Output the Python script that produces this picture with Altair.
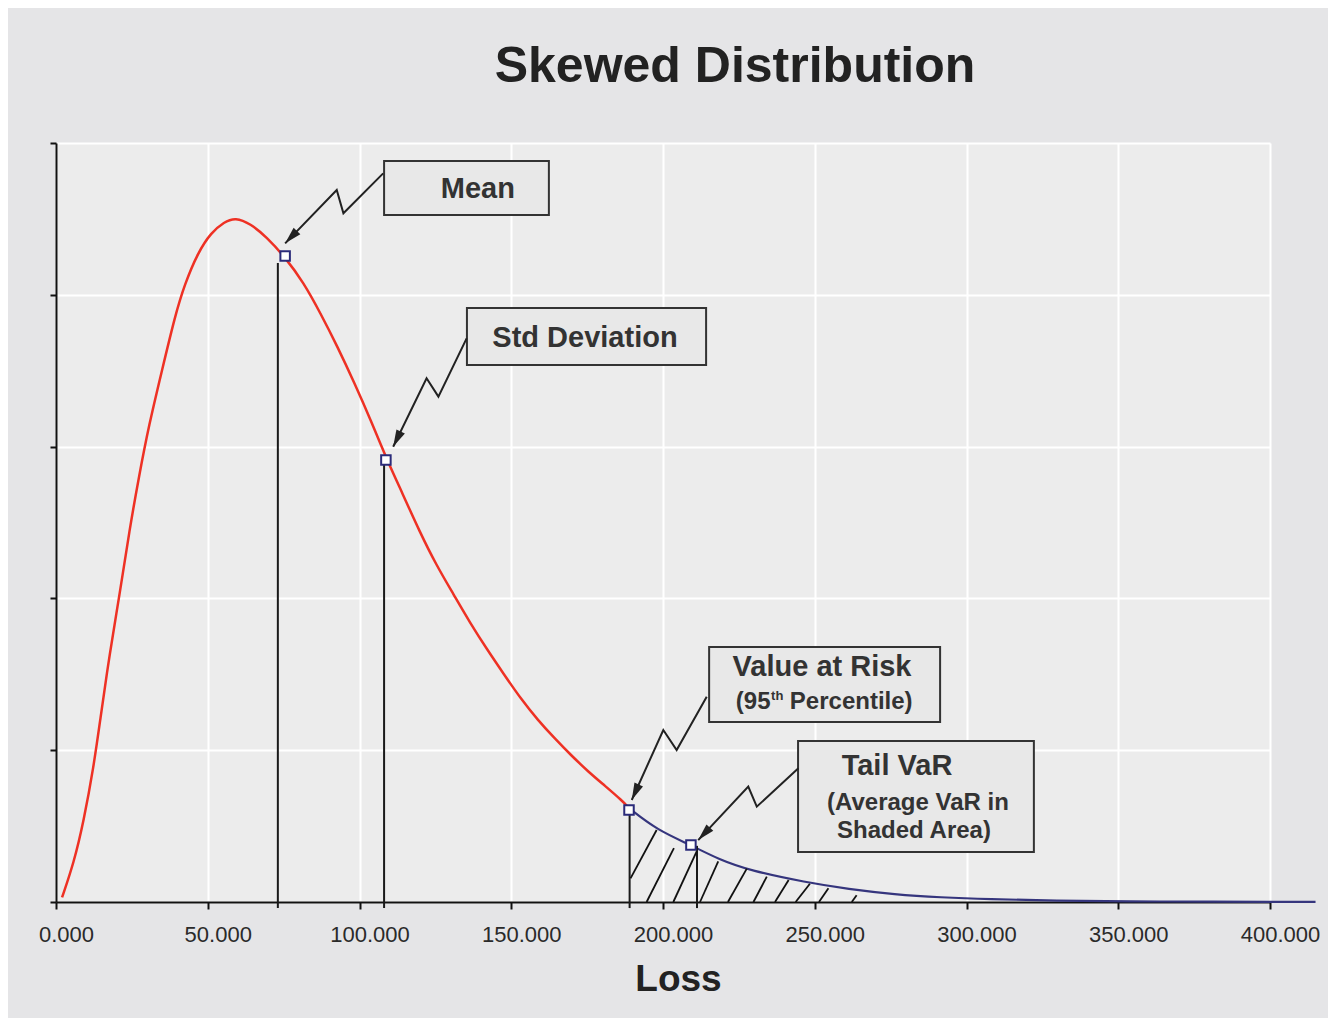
import math
import altair as alt
import pandas as pd

# ---------------- data ----------------
x_ticks = [0, 50, 100, 150, 200, 250, 300, 350, 400]
y_ticks = [0, 1, 2, 3, 4, 5]

red_x = [2.0, 5.9, 9.1, 12.4, 14.5, 17.7, 21.0, 24.2, 27.4, 30.6, 34.9, 39.2, 42.4,
         46.8, 51.1, 55.4, 59.1, 64.0, 69.4, 75.4, 81.6, 87.1, 92.7, 98.3, 103.8,
         109.1, 114.2, 119.8, 125.3, 130.9, 136.4, 142.0, 147.6, 153.1, 158.7,
         164.2, 169.8, 175.3, 180.9, 186.4, 189.0]
red_y = [0.03, 0.26, 0.53, 0.89, 1.19, 1.64, 2.03, 2.45, 2.81, 3.14, 3.50, 3.86, 4.07,
         4.28, 4.41, 4.48, 4.51, 4.47, 4.38, 4.25, 4.08, 3.88, 3.66, 3.42, 3.17,
         2.91, 2.69, 2.44, 2.22, 2.03, 1.84, 1.665, 1.50, 1.34, 1.2,
         1.08, 0.965, 0.86, 0.765, 0.67, 0.615]

blue_x = [189.0, 198.0, 209.2, 218.4, 229.0, 247.0, 261.1, 276.3, 291.6, 306.9,
          329.8, 352.7, 383.2, 400.0, 415.0]
blue_y = [0.615, 0.475, 0.375, 0.28, 0.205, 0.13, 0.085, 0.05, 0.03, 0.018,
          0.009, 0.004, 0.002, 0.001, 0.001]

# vertical reference lines and their markers
ref_x = [73.1, 108.1, 189.0, 211.2]
ref_top = [4.21, 2.91, 0.60, 0.37]
marker_x = [75.5, 108.7, 188.8, 209.2]
marker_y = [4.256, 2.912, 0.606, 0.375]

# hatch strokes in the tail (start -> end)
hatch_x0 = [189.3, 194.6, 203.4, 212.2, 221.4, 229.8, 236.9, 243.7, 251.4, 262.2]
hatch_y0 = [0.156, 0.0, 0.0, 0.0, 0.0, 0.0, 0.0, 0.0, 0.0, 0.0]
hatch_x1 = [197.9, 203.6, 211.1, 218.2, 227.6, 234.2, 241.4, 248.4, 254.5, 263.8]
hatch_y1 = [0.474, 0.355, 0.333, 0.267, 0.22, 0.167, 0.145, 0.12, 0.09, 0.045]

# annotation boxes
box_x0 = [108.1, 135.4, 215.2, 244.5]
box_x1 = [162.4, 214.2, 291.3, 322.2]
box_y0 = [4.526, 3.538, 1.186, 0.329]
box_y1 = [4.881, 3.913, 1.680, 1.061]

label_text = ["Mean", "Std Deviation", "Value at Risk", "Tail VaR",
              "(Average VaR in", "Shaded Area)"]
label_x = [139.0, 174.3, 252.4, 277.1, 284.0, 282.7]
label_y = [4.697, 3.715, 1.548, 0.896, 0.652, 0.468]
label_size = [29, 29, 29, 29, 24, 24]

pct_text = ["(95", "th", "Percentile)"]
pct_x = [224.0, 235.6, 241.8]
pct_y = [1.318, 1.357, 1.318]
pct_size = [24, 13, 24]

# zig-zag arrows (box -> point)
arrow_x = [[107.8, 94.7, 92.5, 75.5],
           [135.3, 126.0, 122.1, 111.1],
           [214.4, 204.5, 200.1, 189.7],
           [244.6, 230.9, 228.1, 211.6]]
arrow_y = [[4.800, 4.537, 4.690, 4.339],
           [3.713, 3.329, 3.450, 2.999],
           [1.352, 1.001, 1.133, 0.672],
           [0.881, 0.628, 0.760, 0.408]]

# ---------------- chart ----------------
W, H = 1214, 759
XD, YD = [0, 400], [0, 5]
FONT = "Liberation Sans"

xs = alt.Scale(domain=XD, nice=False, zero=False)
ys = alt.Scale(domain=YD, nice=False, zero=False)

xa = alt.Axis(values=x_ticks, format=".3f", labelFont=FONT, labelFontSize=22,
              labelColor="#2a2a2a", labelPadding=15, labelOffset=10, labelFlush=False,
              labelOverlap=False,
              tickSize=7, tickWidth=2, tickColor="#111111",
              domainColor="#111111", domainWidth=2,
              grid=True, gridColor="#ffffff", gridWidth=2,
              title="Loss", titleFont=FONT, titleFontSize=37,
              titleFontWeight="bold", titleColor="#222222",
              titleX=622, titleY=88, titleAlign="center",
              titleBaseline="alphabetic")
ya = alt.Axis(values=y_ticks, labels=False, title=None,
              tickSize=6, tickWidth=2, tickColor="#111111",
              domainColor="#111111", domainWidth=2,
              grid=True, gridColor="#ffffff", gridWidth=2)

red_df = pd.DataFrame({"x": red_x, "y": red_y})
blue_df = pd.DataFrame({"x": blue_x, "y": blue_y})
ref_df = pd.DataFrame({"x": ref_x, "y": [-0.04] * 4, "y2": ref_top})
mk_df = pd.DataFrame({"x": marker_x, "y": marker_y})
hatch_df = pd.DataFrame({"x": hatch_x0, "y": hatch_y0, "x2": hatch_x1, "y2": hatch_y1})
box_df = pd.DataFrame({"x": box_x0, "x2": box_x1, "y": box_y0, "y2": box_y1})
lab_df = pd.DataFrame({"t": label_text, "x": label_x, "y": label_y, "s": label_size})
pct_df = pd.DataFrame({"t": pct_text, "x": pct_x, "y": pct_y, "s": pct_size})

rows = []
heads = []
px_x = W / (XD[1] - XD[0])
px_y = H / (YD[1] - YD[0])
for i, (ax, ay) in enumerate(zip(arrow_x, arrow_y)):
    for j, (a, b) in enumerate(zip(ax, ay)):
        rows.append({"id": i, "o": j, "x": a, "y": b})
    dx = (ax[-1] - ax[-2]) * px_x
    dy = -(ay[-1] - ay[-2]) * px_y
    ang = math.degrees(math.atan2(dx, -dy)) % 360
    heads.append({"x": ax[-1], "y": ay[-1], "a": ang})
arrow_df = pd.DataFrame(rows)
head_df = pd.DataFrame(heads)

X = lambda: alt.X("x", type="quantitative", scale=xs, axis=xa)
Y = lambda: alt.Y("y", type="quantitative", scale=ys, axis=ya)

red = alt.Chart(red_df).mark_line(color="#ee3124", strokeWidth=2.5, interpolate="basis").encode(
    x=X(), y=Y())

blue = alt.Chart(blue_df).mark_line(color="#35357d", strokeWidth=2.2, interpolate="basis").encode(
    x=X(), y=Y())

refs = alt.Chart(ref_df).mark_rule(color="#1a1a1a", strokeWidth=2).encode(
    x=X(), y=Y(), y2="y2:Q")

hatch = alt.Chart(hatch_df).mark_rule(color="#111111", strokeWidth=1.8).encode(
    x=X(), y=Y(), x2="x2:Q", y2="y2:Q")

boxes = alt.Chart(box_df).mark_rect(fill="#e8e8e8", stroke="#333333", strokeWidth=2).encode(
    x=X(), x2="x2:Q", y=Y(), y2="y2:Q")

labels = alt.Chart(lab_df).mark_text(font=FONT, fontWeight="bold", color="#333333",
                                     align="center", baseline="middle").encode(
    x=X(), y=Y(), text="t:N", size=alt.Size("s:Q", scale=None, legend=None))

pct = alt.Chart(pct_df).mark_text(font=FONT, fontWeight="bold", color="#333333",
                                  align="left", baseline="middle").encode(
    x=X(), y=Y(), text="t:N", size=alt.Size("s:Q", scale=None, legend=None))

arrows = alt.Chart(arrow_df).mark_line(color="#222222", strokeWidth=2).encode(
    x=X(), y=Y(), detail="id:N", order="o:Q")

arrow_heads = alt.Chart(head_df).mark_point(
    shape="M0,0 L0.55,2 L-0.55,2 Z", filled=True, color="#222222", opacity=1, size=290
).encode(x=X(), y=Y(), angle=alt.Angle("a:Q", scale=None))

markers = alt.Chart(mk_df).mark_point(shape="square", filled=True, fill="#ffffff",
                                      stroke="#2b2b7a", strokeWidth=2, size=90,
                                      opacity=1).encode(x=X(), y=Y())

chart = alt.layer(red, blue, refs, hatch, boxes, labels, pct, arrows, arrow_heads, markers).properties(
    width=W, height=H,
    autosize=alt.AutoSizeParams(type="none"),
    padding={"left": 48, "top": 135, "right": 58, "bottom": 116},
    background="#e5e5e7",
    title=alt.TitleParams(text="Skewed Distribution", font=FONT, fontSize=50,
                          fontWeight="bold", color="#222222", anchor="middle",
                          dx=72, offset=50),
).configure_view(stroke=None, fill="#ececec")

chart.save("out.html", embed_options={"renderer": "svg", "actions": False})
